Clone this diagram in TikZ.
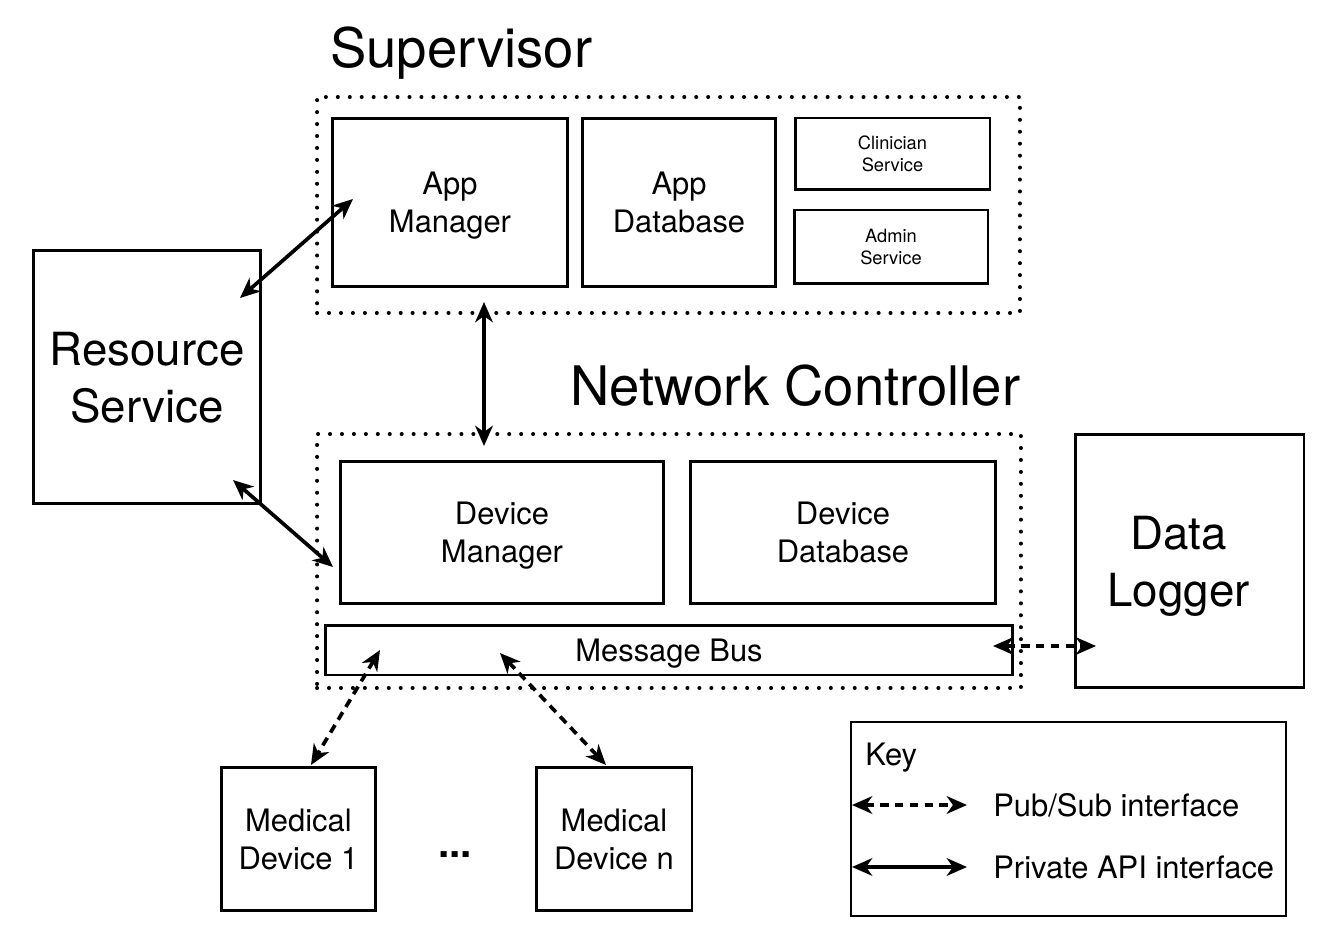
\documentclass[tikz,border=0pt]{standalone}
\usepackage{fontspec}
\setmainfont{TeX Gyre Heros}
\usetikzlibrary{arrows.meta}
\tikzset{
    box/.style={draw, line width=1.7pt, align=center, inner sep=0pt, text depth=0pt,
        font=\fontsize{17.6}{21.5}\selectfont},
    bigbox/.style={box, font=\fontsize{26}{32.5}\selectfont},
    smallbox/.style={box, font=\fontsize{10.4}{12.5}\selectfont},
    group/.style={draw, line width=2.3pt, line cap=round, dash pattern=on 0pt off 6.8pt},
    title/.style={anchor=base west, inner sep=0pt, font=\fontsize{31}{37}\selectfont},
    keytext/.style={anchor=base west, inner sep=0pt, font=\fontsize{17.6}{21}\selectfont},
    api/.style={line width=2.1pt,
        {Stealth[length=11.5pt,width=10pt,inset=3.5pt]}-{Stealth[length=11.5pt,width=10pt,inset=3.5pt]}},
    pubsub/.style={api, dash pattern=on 5pt off 3.5pt},
}

\begin{document}
\begin{tikzpicture}[x=0.02cm, y=-0.02cm]
    \useasboundingbox (0,0) rectangle (1325,949);
    % supervisor
    \node[group, minimum width=14.06cm, minimum height=4.32cm] (sup) at (668.5,205) {};
    \node[title] (suptitle) at (330,68) {Supervisor};
    \node[box, minimum width=4.72cm, minimum height=3.38cm] (appmgr) at (450,202.5) {App\\Manager};
    \node[box, minimum width=3.88cm, minimum height=3.38cm] (appdb) at (679,202.5) {App\\Database};
    \node[smallbox, minimum width=3.9cm, minimum height=1.44cm] (clin) at (892.5,154) {Clinician\\Service};
    \node[smallbox, minimum width=3.88cm, minimum height=1.48cm] (admin) at (891,247) {Admin\\Service};
    % network controller
    \node[title] (nctitle) at (570,405) {Network Controller};
    \node[group, minimum width=14.08cm, minimum height=5.08cm] (nc) at (669,561) {};
    \node[box, minimum width=6.48cm, minimum height=2.86cm] (devmgr) at (502,532.5) {Device\\Manager};
    \node[box, minimum width=6.12cm, minimum height=2.86cm] (devdb) at (843,532.5) {Device\\Database};
    \node[box, minimum width=13.76cm, minimum height=1.0cm] (bus) at (669,650) {Message Bus};
    % outside
    \node[bigbox, minimum width=4.56cm, minimum height=5.08cm] (res) at (147,377) {Resource\\Service};
    \node[bigbox, minimum width=4.58cm, minimum height=5.08cm] (logger) at (1189.5,561)
        {Data\hspace*{0.44cm}\\Logger\hspace*{0.44cm}};
    \node[box, minimum width=3.1cm, minimum height=2.88cm] (med1) at (298.5,839) {Medical\\Device 1};
    \node[box, minimum width=3.12cm, minimum height=2.88cm] (medn) at (614,839) {Medical\\Device n};
    \node[keytext, font=\fontsize{23}{27}\selectfont\bfseries] (dots) at (438,857) {...};
    % arrow ends
    \coordinate (resA) at (240,298);
    \coordinate (appA) at (353,199);
    \coordinate (supB) at (484,302);
    \coordinate (ncB) at (484,446);
    \coordinate (resC) at (233,480);
    \coordinate (devC) at (333,567);
    \coordinate (busD) at (380,650);
    \coordinate (medD) at (311,765);
    \coordinate (busE) at (500,653);
    \coordinate (medE) at (606,765);
    \coordinate (busF) at (993,646);
    \coordinate (logF) at (1096,646);
    \draw[api] (resA) -- (appA);
    \draw[api] (supB) -- (ncB);
    \draw[api] (resC) -- (devC);
    \draw[pubsub] (busD) -- (medD);
    \draw[pubsub] (busE) -- (medE);
    \draw[pubsub] (busF) -- (logF);
    % key
    \node[draw, line width=1.2pt, minimum width=8.7cm, minimum height=3.88cm] (key) at (1068.5,819) {};
    \node[keytext] (keytitle) at (865,765) {Key};
    \coordinate (k1a) at (852,805);
    \coordinate (k1b) at (967,805);
    \coordinate (k2a) at (852,867);
    \coordinate (k2b) at (967,867);
    \draw[pubsub] (k1a) -- (k1b);
    \draw[api] (k2a) -- (k2b);
    \node[keytext] (k1text) at (993,816) {Pub/Sub interface};
    \node[keytext] (k2text) at (993,878) {Private API interface};
\end{tikzpicture}
\end{document}
